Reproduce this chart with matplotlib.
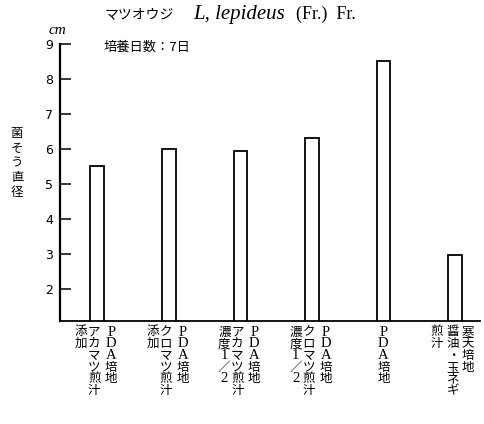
import matplotlib.pyplot as plt
from matplotlib.transforms import blended_transform_factory, offset_copy

# data
values = [5.5, 6.0, 5.95, 6.3, 8.5, 2.95]
# each label is written vertically, columns listed right to left
label_columns = [
    ["PDA培地", "アカマツ煎汁", "添加"],
    ["PDA培地", "クロマツ煎汁", "添加"],
    ["PDA培地", "アカマツ煎汁", ["濃", "度", "1", "／", "2"]],
    ["PDA培地", "クロマツ煎汁", ["濃", "度", "1", "／", "2"]],
    ["PDA培地"],
    ["寒天培地", "醤油・玉ネギ", "煎汁"],
]
yticks = [2, 3, 4, 5, 6, 7, 8, 9]

cjk = ['Noto Sans CJK JP', 'DejaVu Sans']

W, H = 484, 424
fig = plt.figure(figsize=(W / 100, H / 100), dpi=100)
ax = fig.add_axes([60 / W, 1 - 321 / H, 420 / W, (321 - 44) / H])

x = list(range(len(values)))
ax.bar(x, values, width=0.19, bottom=0, color='white', edgecolor='black', linewidth=1.3)
ax.set_ylim(1.07, 9)
ax.set_xlim(-0.52, 5.35)

for s in ['top', 'right']:
    ax.spines[s].set_visible(False)
ax.spines['left'].set_linewidth(1.6)
ax.spines['bottom'].set_linewidth(1.3)
ax.set_xticks([])
ax.set_yticks(yticks)
ax.tick_params(axis='y', direction='in', length=8, width=1.1, pad=5, labelsize=9)

# vertical category labels under the bars
trans = blended_transform_factory(ax.transData, ax.transAxes)
row = 11.7
top = 11
for i, cols in enumerate(label_columns):
    if len(cols) == 1:
        offsets = [0]
    elif i == 5:
        offsets = [13, -2, -18]
    else:
        offsets = [14, -3, -16]
    for col, dx in zip(cols, offsets):
        for k, ch in enumerate(col):
            t = offset_copy(trans, fig=fig, x=dx, y=-(top + k * row), units='dots')
            if ch.isascii():
                ax.text(i, 0, ch, transform=t, ha='center', va='center',
                        fontsize=10.5, family='Liberation Serif')
            else:
                ax.text(i, 0, ch, transform=t, ha='center', va='center',
                        fontsize=9, family=cjk)

# y axis label, stacked characters
for k, ch in enumerate("菌そう直径"):
    fig.text(17 / W, 1 - (134 + k * 14.6) / H, ch, ha='center', va='center',
             fontsize=9, family=cjk)

fig.text(57 / W, 1 - 31 / H, "cm", ha='center', va='center', fontsize=11,
         family='Liberation Serif', style='italic')

# title pieces
fig.text(105 / W, 1 - 15 / H, "マツオウジ", ha='left', va='center', fontsize=10, family=cjk)
fig.text(193 / W, 1 - 14 / H, "L, lepideus", ha='left', va='center', fontsize=15,
         family='Liberation Serif', style='italic')
fig.text(296 / W, 1 - 14 / H, "(Fr.)  Fr.", ha='left', va='center', fontsize=13,
         family='Liberation Serif')
fig.text(103 / W, 1 - 47 / H, "培養日数：7日", ha='left', va='center', fontsize=9.5, family=cjk)

fig.savefig('out.png', dpi=100)
